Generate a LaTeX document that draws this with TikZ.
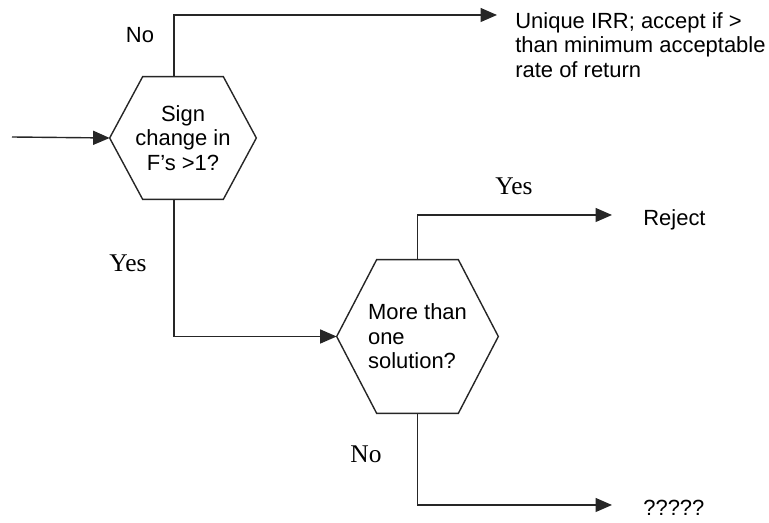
\documentclass[tikz,border=0pt]{standalone}
\usepackage{fontspec}
\setmainfont{Liberation Sans}
\newfontfamily\timesfont{Liberation Serif}
\usetikzlibrary{arrows.meta, positioning}

% hexagon round a decision node: #1 node name, #2 slant width
\newcommand{\hexframe}[2]{%
  \draw[frame] (#1.west) -- ([xshift=#2]#1.north west) -- ([xshift=-#2]#1.north east)
    -- (#1.east) -- ([xshift=-#2]#1.south east) -- ([xshift=#2]#1.south west) -- cycle;}

\begin{document}
\begin{tikzpicture}[
    x=0.02cm, y=-0.02cm,
    decision/.style={shape=rectangle, inner sep=0pt, font=\fontsize{12.5}{13.9}\selectfont},
    frame/.style={draw=black!85, line width=0.8pt, line join=miter},
    flow/.style={draw=black!85, line width=0.8pt, -{Triangle[length=0.33cm, width=0.28cm]}},
    answer/.style={inner sep=0pt, font=\fontsize{12.5}{13.9}\selectfont},
    branch/.style={inner sep=0pt, font=\timesfont\fontsize{14.5}{16}\selectfont}
]
    \useasboundingbox (0,0) rectangle (769,523);

    % Decisions
    \node[decision, minimum width=2.92cm, minimum height=2.44cm, align=center] (signs) at (183,138) {Sign\\change in\\F's >1?};
    \node[decision, minimum width=3.22cm, minimum height=3.06cm, align=left] (multi) at (417.5,336.5) {More than\\one\\solution?};
    \hexframe{signs}{0.66cm}
    \hexframe{multi}{0.8cm}

    % Outcomes
    \node[answer, anchor=north west, align=left] (irr) at (515,12) {Unique IRR; accept if >\\than minimum acceptable\\rate of return};
    \node[answer, anchor=west] (reject) at (643,220) {Reject};
    \node[answer, anchor=west] (unknown) at (643,508) {?????};

    % Arrow ends
    \coordinate (start) at (12,137);
    \coordinate (irr_in) at (497,15);
    \coordinate (reject_in) at (612,215);
    \coordinate (unknown_in) at (612,505);

    % Connectors
    \draw[flow] (start) -- (signs.west);
    \draw[flow] ([xshift=-0.18cm]signs.north) |- (irr_in);
    \draw[flow] ([xshift=-0.18cm]signs.south) |- (multi.west);
    \draw[flow] (multi.north) |- (reject_in);
    \draw[flow] (multi.south) |- (unknown_in);

    % Branch labels
    \node[answer] (no_top) at (140,35) {No};
    \node[branch] (yes_left) at (128,263) {Yes};
    \node[branch] (yes_top) at (514,186) {Yes};
    \node[branch] (no_low) at (366,454) {No};

\end{tikzpicture}
\end{document}
